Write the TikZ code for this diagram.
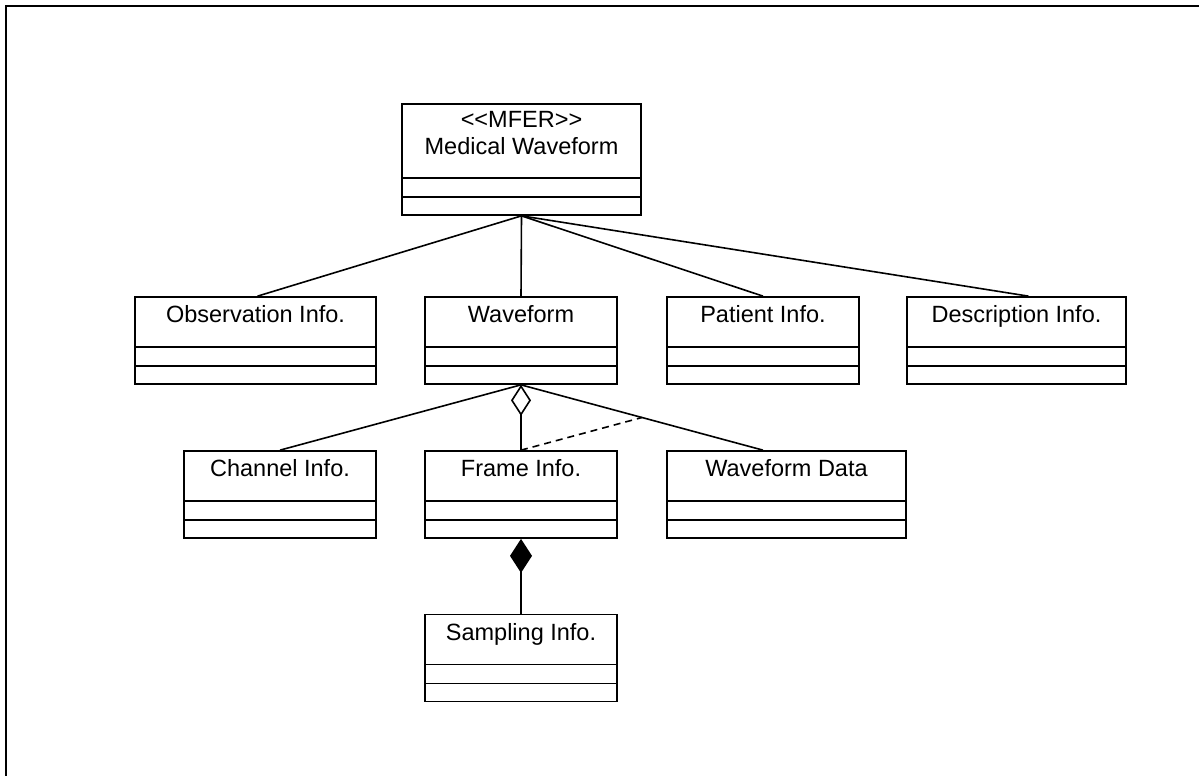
\documentclass[tikz,border=0pt]{standalone}
\usepackage{fontspec}
\setmainfont{Liberation Sans}
\usetikzlibrary{arrows.meta,calc}
\tikzset{
  cls/.style={draw=black, line width=1.7pt, fill=none, inner sep=0pt},
  lbl/.style={inner sep=0pt, anchor=base, font=\fontsize{23.5}{27}\selectfont, align=center},
  divline/.style={draw=black, line width=1.7pt},
  conn/.style={draw=black, line width=1.6pt},
  dashconn/.style={draw=black, line width=1.6pt, dash pattern=on 7pt off 5pt},
  frameline/.style={draw=black, line width=2pt}
}
\newcommand{\umlclass}[6]{% name, cx, cy, w, h, text
  \node[cls, minimum width=#4pt, minimum height=#5pt] (#1) at (#2,#3) {};
  \node[lbl] (#1-t) at ([yshift=-26.5pt]#1.north) {#6};
  \draw[divline] ([yshift=38pt]#1.south west) -- ([yshift=38pt]#1.south east);
  \draw[divline] ([yshift=19pt]#1.south west) -- ([yshift=19pt]#1.south east);
}
\begin{document}
\begin{tikzpicture}[x=1pt,y=-1pt]
\useasboundingbox (0,0) rectangle (1199,776);
\draw[frameline] (6,776) -- (6,6) -- (1199,6);

% top class
\node[cls, minimum width=239pt, minimum height=111pt] (mw) at (521.5,159.5) {};
\node[lbl] (mw-t1) at ([yshift=-24.5pt]mw.north) {\textless\kern0pt\textless MFER\textgreater\kern0pt\textgreater};
\node[lbl] (mw-t2) at ([yshift=-51.5pt]mw.north) {Medical Waveform};
\draw[divline] ([yshift=38pt]mw.south west) -- ([yshift=38pt]mw.south east);
\draw[divline] ([yshift=19pt]mw.south west) -- ([yshift=19pt]mw.south east);

\umlclass{obs}{255.5}{340.5}{241}{87}{Observation Info.}
\umlclass{wf}{521}{340.5}{192}{87}{Waveform}
\umlclass{pat}{763}{340.5}{192}{87}{Patient Info.}
\umlclass{desc}{1016.5}{340.5}{219}{87}{Description Info.}
\umlclass{ch}{280}{494.5}{192}{87}{Channel Info.}
\umlclass{fr}{521}{494.5}{192}{87}{Frame Info.}
\umlclass{wd}{786.5}{494.5}{239}{87}{Waveform Data}
\umlclass{samp}{521}{658}{192}{87}{Sampling Info.}

% connectors from top class
\draw[conn] (mw.south) -- ([xshift=2pt]obs.north);
\draw[conn] (mw.south) -- (wf.north);
\draw[conn] (mw.south) -- (pat.north);
\draw[conn] (mw.south) -- ([xshift=12pt]desc.north);

% from waveform
\coordinate (wdend) at ([xshift=-23.5pt]wd.north);
\draw[conn] (wf.south) -- (ch.north);
\draw[conn] (wf.south) -- (wdend);
\draw[conn, -{Diamond[open, length=31pt, width=20pt, line width=1.6pt]}] (fr.north) -- (wf.south);
\coordinate (dashend) at ($(wf.south)!0.5!(wdend)$);
\draw[dashconn] (fr.north) -- (dashend);

% composition
\draw[conn, -{Diamond[length=34pt, width=22pt]}] (samp.north) -- (fr.south);
\end{tikzpicture}
\end{document}
